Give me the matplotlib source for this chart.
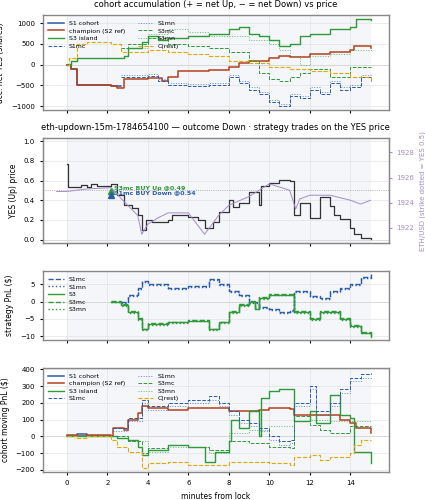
import numpy as np
import matplotlib.pyplot as plt

BLUE = '#2a5caa'
RED = '#b5411c'
GREEN = '#2e9a3a'
ORANGE = '#e0a800'
PURPLE = '#a58ac9'

# ---- panel 1: accumulated net YES shares ----
acc_s1_t = [0, 0.2, 0.5, 2.2, 2.7]
acc_s1_v = [0, -100, -500, -520, -520]
acc_ch_t = [0, 0.2, 0.5, 2.2, 2.5, 2.8, 4, 4.7, 5, 5.5, 7, 8, 8.5, 9, 10, 10.5, 11, 12, 13, 14, 14.2, 15]
acc_ch_v = [0, -100, -500, -520, -560, -350, -330, -400, -300, -150, -120, -50, 50, 100, 150, 200, 180, 250, 300, 350, 450, 400]
acc_s1mc_t = [2.7, 4, 4.5, 5, 6, 7, 8, 8.5, 9, 9.5, 10, 10.5, 11, 11.5, 12, 12.5, 13, 13.5, 14, 14.5, 15]
acc_s1mc_v = [-300, -280, -400, -500, -520, -480, -300, -450, -600, -700, -900, -1000, -750, -800, -600, -700, -450, -600, -550, -300, -400]
acc_s1mn_v = [v + 50 for v in acc_s1mc_v]
acc_s3_t = [0, 0.2, 0.5, 2.7, 2.8, 3, 3.7, 4, 4.5, 5, 6, 7, 8, 8.5, 9, 9.5, 10, 10.5, 11, 11.5, 12, 13, 14, 14.3, 15]
acc_s3_v = [0, 100, 150, 150, 200, 400, 550, 700, 600, 650, 700, 750, 850, 900, 750, 700, 600, 450, 500, 700, 750, 850, 900, 1100, 1080]
acc_s3mc_t = [2.7, 3, 4, 5, 6, 7, 8, 9, 9.5, 10, 10.5, 11, 11.5, 12, 13, 14, 15]
acc_s3mc_v = [400, 500, 650, 500, 450, 400, 300, 100, -200, -350, -400, -300, -200, -100, -300, -50, -50]
acc_s3mn_t = [2.7, 4, 5, 6, 7, 8, 9, 10, 10.5, 11, 11.5, 12, 13, 14, 15]
acc_s3mn_v = [400, 750, 850, 800, 700, 700, 600, 500, 350, 200, 0, 200, 250, 350, 300]
acc_cr_t = [0, 0.1, 0.5, 1, 2.2, 2.7, 4, 5, 6, 7, 8, 9, 10, 11, 12, 13, 14, 15]
acc_cr_v = [0, 150, 500, 550, 500, 300, 350, 300, 250, 200, 100, 50, -50, -100, -150, -200, -300, -400]

# ---- panel 2: YES price and ETH ----
yes_t = [0, 0.05, 0.5, 0.7, 1, 1.2, 1.5, 2.2, 2.5, 2.8, 3.2, 3.5, 3.7, 3.9, 4.2, 5, 5.2, 6, 6.5, 6.8, 7.2, 7.5, 8,
         8.2, 8.5, 9, 9.5, 9.6, 10, 10.5, 11, 11.2, 11.5, 12, 12.5, 13, 13.2, 13.5, 14, 14.2, 14.5, 15]
yes_v = [0.77, 0.54, 0.53, 0.56, 0.54, 0.57, 0.55, 0.57, 0.45, 0.35, 0.32, 0.25, 0.10, 0.20, 0.18, 0.20, 0.25, 0.23,
         0.20, 0.12, 0.18, 0.28, 0.40, 0.33, 0.37, 0.48, 0.35, 0.55, 0.58, 0.61, 0.60, 0.25, 0.37, 0.22, 0.43, 0.34,
         0.25, 0.21, 0.12, 0.06, 0.02, 0.01]
eth_t = [-0.5, 0, 1, 2.2, 2.7, 3.5, 3.7, 4, 4.5, 5, 6, 6.8, 7.5, 8, 9, 9.5, 10, 11, 11.3, 11.5, 12, 13, 14, 14.5, 15]
eth_v = [1924.9, 1924.9, 1925.1, 1925.2, 1924.3, 1923.0, 1921.5, 1922.3, 1922.8, 1923.2, 1923.2, 1921.5, 1923.0,
         1923.8, 1924.5, 1925.0, 1925.5, 1925.0, 1923.5, 1924.3, 1924.6, 1924.6, 1924.2, 1923.9, 1924.2]

# ---- panel 3: strategy PnL ----
pnl_s1mc_t = [2.7, 3, 3.5, 3.7, 4, 4.5, 5, 6, 7, 7.5, 8, 8.5, 9, 9.5, 10, 10.5, 11, 11.2, 12, 12.5, 13, 13.5, 14, 14.5, 15]
pnl_s1mc_v = [0, 2, 4, 6, 5, 5, 4, 4.5, 6.5, 5, 3, 2, 0, -1.5, -2, -3, -2.5, 3, 1.5, 1, 3, 4, 5, 7, 8]
pnl_s1mn_v = [v - 0.3 for v in pnl_s1mc_v]
pnl_s3_t = [2.2, 2.7, 3, 3.5, 3.7, 4, 5, 6, 7, 7.5, 8, 8.5, 9, 9.3, 9.5, 10, 11, 11.2, 12, 12.5, 13, 13.5, 14, 14.5, 15]
pnl_s3_v = [0, -1, -3, -5, -8, -6.5, -6, -5.5, -8, -6, -3, -1, 0, -2, 1, 2, 2, -3, -5, -3, -3, -5, -7, -9, -10.2]
pnl_s3mc_v = [v + 0.2 for v in pnl_s3_v]
pnl_s3mn_v = [v - 0.2 for v in pnl_s3_v]

# ---- panel 4: cohort moving PnL ----
mv_s1_t = [0, 0.5, 1, 1.2, 2.2]
mv_s1_v = [5, 15, 0, 5, 5]
mv_ch_t = [0, 0.5, 1, 2.2, 2.3, 2.8, 3, 3.5, 3.7, 4, 5, 6, 7, 8, 9, 9.5, 10, 11, 11.2, 12, 13, 13.5, 14, 14.3, 15]
mv_ch_v = [10, 5, 10, 5, 50, 40, 100, 140, 180, 170, 160, 170, 170, 150, 150, 160, 170, 165, 130, 130, 130, 100, 80, 50, 20]
mv_s1mc_t = [2.3, 3, 3.7, 4, 5, 6, 7, 7.5, 8, 8.5, 9, 9.5, 10, 10.5, 11, 11.2, 12, 12.3, 13, 13.5, 14, 14.5, 15]
mv_s1mc_v = [50, 110, 220, 180, 200, 220, 240, 200, 150, 100, 80, 50, 0, -30, -20, 200, 300, 150, 200, 280, 350, 370, 380]
mv_s1mn_v = [v - 20 for v in mv_s1mc_v]
mv_s3_t = [0, 2.2, 2.5, 3, 3.5, 3.7, 4, 5, 6, 6.8, 7.3, 8, 8.1, 8.5, 9, 9.5, 9.6, 10, 10.5, 11.2, 12, 12.3, 13, 13.5, 14,
           14.2, 14.8, 15]
mv_s3_v = [0, 0, -10, -20, -60, -110, -80, -50, -60, -150, -90, -30, 100, 50, 150, 0, 230, 270, 280, 90, 150, 80, 250,
           130, 110, -90, -90, -160]
mv_s3mc_t = [2.2, 3, 3.7, 4, 5, 6, 7, 8, 9, 10, 11, 11.2, 12, 12.5, 13, 14, 15]
mv_s3mc_v = [0, -30, -100, -70, -50, -60, -80, -30, -40, -60, -70, 120, 70, 40, 20, 60, 65]
mv_s3mn_t = [2.2, 3, 4, 5, 7, 8, 9, 10, 11, 11.2, 12, 13, 14, 15]
mv_s3mn_v = [0, -30, -90, -60, -100, 20, 40, 60, 60, 90, 100, 90, 90, 85]
mv_cr_t = [0, 0.5, 1, 2.2, 2.5, 3, 3.7, 4, 5, 6, 8, 10, 11, 11.2, 12, 12.5, 13, 14, 14.2, 14.5, 15]
mv_cr_v = [0, -10, 5, -20, -60, -90, -190, -160, -150, -170, -150, -160, -170, -120, -110, -140, -120, -100, -50, -20, -20]

plt.rcParams['font.size'] = 5
fig, axes = plt.subplots(4, 1, figsize=(4.25, 5), dpi=100, sharex=True,
                         gridspec_kw={'height_ratios': [1, 1.1, 0.72, 1.1]})
fig.subplots_adjust(left=0.1, right=0.915, top=0.97, bottom=0.055, hspace=0.3)


def style(ax):
    ax.axvspan(0, 15, color='#eef0f8', alpha=0.6, zorder=0, lw=0)
    ax.grid(True, color='#dddddd', lw=0.4)
    ax.axhline(0, color='#cccccc', lw=0.6, zorder=1)
    for s in ax.spines.values():
        s.set_color('#888888')
        s.set_linewidth(1)
    ax.tick_params(labelsize=5, length=2)


def st(ax, t, v, color, ls='-', lw=0.9, label=None, alpha=1.0):
    ax.step(t, v, where='post', color=color, ls=ls, lw=lw, label=label, alpha=alpha)


ax = axes[0]
style(ax)
st(ax, acc_s1_t, acc_s1_v, BLUE, lw=1.1, label='S1 cohort')
st(ax, acc_ch_t, acc_ch_v, RED, lw=1.1, label='champion (S2 ref)')
st(ax, acc_s3_t, acc_s3_v, GREEN, lw=1.0, label='S3 island')
st(ax, acc_s1mc_t, acc_s1mc_v, BLUE, ls='--', lw=0.7, label='S1mc')
st(ax, acc_s1mc_t, acc_s1mn_v, BLUE, ls=':', lw=0.7, label='S1mn', alpha=0.7)
st(ax, acc_s3mc_t, acc_s3mc_v, GREEN, ls='--', lw=0.7, label='S3mc')
st(ax, acc_s3mn_t, acc_s3mn_v, GREEN, ls=':', lw=0.7, label='S3mn', alpha=0.7)
st(ax, acc_cr_t, acc_cr_v, ORANGE, ls='--', lw=0.8, label='C(rest)')
ax.set_ylim(-1100, 1200)
ax.set_ylabel('acc. net YES (shares)', fontsize=5.5)
ax.set_title('cohort accumulation (+ = net Up, − = net Down) vs price', fontsize=6)
ax.legend(loc='upper left', ncol=2, fontsize=4.5, frameon=False, handlelength=2.5, labelspacing=0.35)

ax = axes[1]
style(ax)
ax.axhline(0.5, color='#999999', ls=':', lw=0.6)
st(ax, yes_t, yes_v, '#333333', lw=0.9)
ax.plot(2.2, 0.49, marker='^', color=GREEN, ms=5)
ax.plot(2.2, 0.45, marker='^', color=BLUE, ms=5)
ax.text(2.35, 0.5, 'S3mc BUY Up @0.49', color=GREEN, fontsize=4.5, fontweight='bold')
ax.text(2.35, 0.46, 'S1mc BUY Down @0.54', color=BLUE, fontsize=4.5, fontweight='bold')
ax.set_ylim(-0.035, 1.03)
ax.set_ylabel('YES (Up) price', fontsize=5.5)
ax.set_title('eth-updown-15m-1784654100 — outcome Down · strategy trades on the YES price', fontsize=6)
ax2 = ax.twinx()
ax2.plot(eth_t, eth_v, color=PURPLE, lw=0.7)
ax2.set_ylim(1920.8, 1929.12)
ax2.set_yticks([1922, 1924, 1926, 1928])
ax2.tick_params(labelsize=5, colors=PURPLE, length=2)
ax2.set_ylabel('ETH/USD (strike dotted = YES 0.5)', color=PURPLE, fontsize=5)
for s in ax2.spines.values():
    s.set_color('#888888')

ax = axes[2]
style(ax)
st(ax, pnl_s1mc_t, pnl_s1mc_v, BLUE, ls='--', lw=1.0, label='S1mc')
st(ax, pnl_s1mc_t, pnl_s1mn_v, BLUE, ls=':', lw=1.0, label='S1mn')
st(ax, pnl_s3_t, pnl_s3_v, GREEN, lw=1.0, label='S3')
st(ax, pnl_s3_t, pnl_s3mc_v, GREEN, ls='--', lw=1.0, label='S3mc')
st(ax, pnl_s3_t, pnl_s3mn_v, GREEN, ls=':', lw=1.0, label='S3mn')
ax.set_ylim(-11, 8.8)
ax.set_ylabel('strategy PnL ($)', fontsize=5.5)
ax.legend(loc='upper left', fontsize=4.5, frameon=False, handlelength=2.5, labelspacing=0.35)

ax = axes[3]
style(ax)
st(ax, mv_s1_t, mv_s1_v, BLUE, lw=1.1, label='S1 cohort')
st(ax, mv_ch_t, mv_ch_v, RED, lw=1.1, label='champion (S2 ref)')
st(ax, mv_s3_t, mv_s3_v, GREEN, lw=1.0, label='S3 island')
st(ax, mv_s1mc_t, mv_s1mc_v, BLUE, ls='--', lw=0.7, label='S1mc')
st(ax, mv_s1mc_t, mv_s1mn_v, BLUE, ls=':', lw=0.7, label='S1mn', alpha=0.7)
st(ax, mv_s3mc_t, mv_s3mc_v, GREEN, ls='--', lw=0.7, label='S3mc')
st(ax, mv_s3mn_t, mv_s3mn_v, GREEN, ls=':', lw=0.7, label='S3mn', alpha=0.7)
st(ax, mv_cr_t, mv_cr_v, ORANGE, ls='--', lw=0.8, label='C(rest)')
ax.set_ylim(-215, 410)
ax.set_ylabel('cohort moving PnL ($)', fontsize=5.5)
ax.set_xlabel('minutes from lock', fontsize=5.5)
ax.legend(loc='upper left', ncol=2, fontsize=4.5, frameon=False, handlelength=2.5, labelspacing=0.35)
ax.set_xlim(-1.2, 15.9)
ax.set_xticks(range(0, 15, 2))

fig.savefig('out.png', facecolor='w')
